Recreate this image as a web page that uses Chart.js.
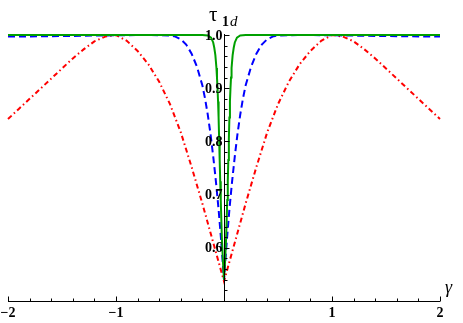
<!DOCTYPE html>
<html>
<head>
<meta charset="utf-8">
<script src="https://cdn.jsdelivr.net/npm/chart.js@4/dist/chart.umd.min.js"></script>
<style>
html,body{margin:0;padding:0;background:#fff}
</style>
</head>
<body>
<canvas id="c" width="463" height="323"></canvas>
<script>
// values
const gammaRed=[-2,-1.9,-1.8,-1.7,-1.6,-1.5,-1.4,-1.3,-1.2,-1.1,-1,-0.9,-0.8,-0.7,-0.6,-0.5,-0.4,-0.3,-0.2,-0.1,0,
  0.1,0.2,0.3,0.4,0.5,0.6,0.7,0.8,0.9,1,1.1,1.2,1.3,1.4,1.5,1.6,1.7,1.8,1.9,2];
const tauRed=[0.842,0.861,0.880,0.899,0.918,0.937,0.956,0.973,0.988,0.997,1.0,0.989,0.970,0.945,0.912,0.870,0.817,0.752,0.683,0.610,0.537,
  0.610,0.683,0.752,0.817,0.870,0.912,0.945,0.970,0.989,1.0,0.997,0.988,0.973,0.956,0.937,0.918,0.899,0.880,0.861,0.842];

const gammaBlue=[-2,-1.5,-1,-0.7,-0.5,-0.45,-0.4,-0.35,-0.3,-0.25,-0.2,-0.175,-0.15,-0.125,-0.1,-0.075,-0.05,-0.025,0,
  0.025,0.05,0.075,0.1,0.125,0.15,0.175,0.2,0.25,0.3,0.35,0.4,0.45,0.5,0.7,1,1.5,2];
const tauBlue=[0.997,0.998,0.9995,1.0,0.999,0.997,0.992,0.982,0.965,0.940,0.905,0.880,0.850,0.814,0.772,0.725,0.672,0.610,0.540,
  0.610,0.672,0.725,0.772,0.814,0.850,0.880,0.905,0.940,0.965,0.982,0.992,0.997,0.999,1.0,0.9995,0.998,0.997];

const gammaGreen=[-2,-1,-0.5,-0.3,-0.2,-0.15,-0.12,-0.1,-0.09,-0.08,-0.07,-0.065,-0.06,-0.055,-0.05,-0.045,-0.04,-0.035,-0.03,-0.02,-0.01,0,
  0.01,0.02,0.03,0.035,0.04,0.045,0.05,0.055,0.06,0.065,0.07,0.08,0.09,0.1,0.12,0.15,0.2,0.3,0.5,1,2];
const tauGreen=[1.0,1.0,1.0,1.0,1.0,0.999,0.995,0.986,0.976,0.962,0.938,0.920,0.900,0.875,0.845,0.805,0.765,0.725,0.690,0.620,0.575,0.540,
  0.575,0.620,0.690,0.725,0.765,0.805,0.845,0.875,0.900,0.920,0.938,0.962,0.976,0.986,0.995,0.999,1.0,1.0,1.0,1.0,1.0];

const xTickVals=[-2,-1,1,2];
const xTickLabels=['\u22122','\u22121','1','2'];
const yTickVals=[0.6,0.7,0.8,0.9,1.0];
const yTickLabels=['0.6','0.7','0.8','0.9','1.0'];

function pts(xs,ys){ return xs.map((g,i)=>({x:g,y:ys[i]})); }

const tickFont='bold 14px "Liberation Serif", "DejaVu Serif", serif';

const axesPlugin={
  id:'axes',
  afterDatasetsDraw(chart){
    const {ctx,scales:{x,y}}=chart;
    const x0=Math.round(x.getPixelForValue(0))+0.5;
    const y0=Math.round(y.getPixelForValue(0.5))+0.5;
    ctx.save();
    ctx.strokeStyle='#000';
    ctx.lineWidth=1;
    ctx.beginPath();
    ctx.moveTo(x.getPixelForValue(-2),y0); ctx.lineTo(x.getPixelForValue(2),y0);
    ctx.moveTo(x0,y0); ctx.lineTo(x0,y.getPixelForValue(1.0)-1);
    // x ticks, every 0.2
    for(let i=-10;i<=10;i++){
      if(i===0) continue;
      const px=Math.round(x.getPixelForValue(i*0.2))+0.5;
      const len=(i%5===0)?5:3;
      ctx.moveTo(px,y0); ctx.lineTo(px,y0-len);
    }
    // y ticks, every 0.02
    for(let i=26;i<=50;i++){
      const py=Math.round(y.getPixelForValue(i*0.02))+0.5;
      const len=(i%5===0)?5:3;
      ctx.moveTo(x0,py); ctx.lineTo(x0+len,py);
    }
    ctx.stroke();

    ctx.fillStyle='#000';
    ctx.font=tickFont;
    ctx.textAlign='center'; ctx.textBaseline='top';
    xTickVals.forEach((v,i)=>ctx.fillText(xTickLabels[i],x.getPixelForValue(v),y0+5));
    ctx.textAlign='right'; ctx.textBaseline='middle';
    yTickVals.forEach((v,i)=>ctx.fillText(yTickLabels[i],x0-2,y.getPixelForValue(v)+1));

    // axis labels
    ctx.textAlign='left'; ctx.textBaseline='alphabetic';
    ctx.font='21px "Liberation Serif", serif';
    ctx.fillText('\u03c4',209,21);
    ctx.font='bold 14px "Liberation Serif", serif';
    ctx.fillText('1',222,26);
    ctx.font='italic 15px "Liberation Serif", serif';
    ctx.fillText('d',230,26);
    ctx.font='italic 18px "Liberation Serif", serif';
    ctx.fillText('\u03b3',445,293);
    ctx.restore();
  }
};

new Chart(document.getElementById('c'),{
  type:'line',
  data:{
    datasets:[
      {label:'green',data:pts(gammaGreen,tauGreen),borderColor:'#00a000',borderWidth:2,order:0},
      {label:'blue',data:pts(gammaBlue,tauBlue),borderColor:'#0000ff',borderWidth:2,borderDash:[7,4],order:1},
      {label:'red',data:pts(gammaRed,tauRed),borderColor:'#ff0000',borderWidth:2,borderDash:[5,3,1.5,3],order:2}
    ]
  },
  options:{
    responsive:false,
    animation:false,
    devicePixelRatio:1,
    layout:{padding:{left:8,right:23,top:35,bottom:22}},
    elements:{point:{radius:0},line:{tension:0,fill:false}},
    datasets:{line:{clip:false}},
    scales:{
      x:{type:'linear',min:-2,max:2,display:false},
      y:{type:'linear',min:0.5,max:1.0,display:false}
    },
    plugins:{legend:{display:false},tooltip:{enabled:false}}
  },
  plugins:[axesPlugin]
});
</script>
</body>
</html>
